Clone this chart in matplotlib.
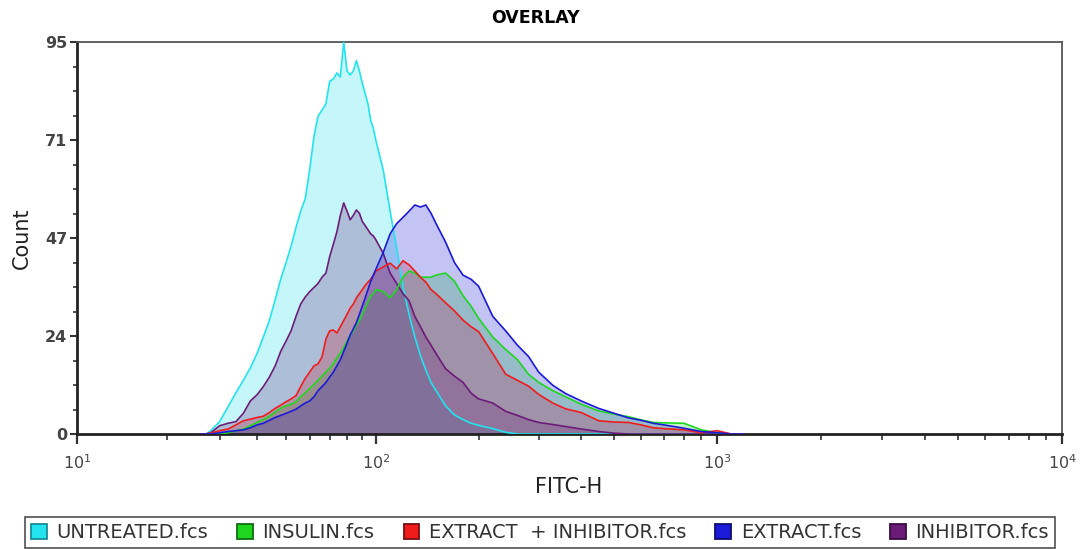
import numpy as np
import matplotlib
matplotlib.use("Agg")
import matplotlib.pyplot as plt
from matplotlib.patches import Patch
from matplotlib.ticker import FixedLocator, NullFormatter

# ---------------- data ----------------
fitc = [26, 27, 28, 30, 32, 34, 36, 38, 40, 42, 44, 46, 48, 50, 52, 54, 56, 58, 60, 62,
        64, 66, 68, 70, 72, 74, 76, 78, 80, 82, 84, 86, 88, 90, 92, 94, 96, 98, 100, 105,
        110, 115, 120, 125, 130, 135, 140, 145, 150, 160, 170, 180, 190, 200, 220, 240, 260, 280, 300, 330,
        360, 400, 450, 500, 550, 600, 650, 700, 800, 900, 1000, 1100, 1200]

untreated = [0, 0, 0.8, 3, 6.6, 10, 13, 16, 19.5, 23.5, 27.5, 32.5, 37.5, 41.5, 45.5, 50, 54, 57, 64, 72,
             77, 78.5, 80, 85.5, 86, 87.5, 86.5, 95, 88, 87, 88, 90.5, 88, 85, 82.5, 80, 76, 74, 71, 64,
             54, 45, 35.7, 29, 23.5, 19, 15.5, 12.5, 10.5, 6.8, 4.6, 3.5, 2.6, 2.1, 1.3, 0.4, 0, 0, 0, 0,
             0, 0, 0, 0, 0, 0, 0, 0, 0, 0, 0, 0, 0]

insulin = [0, 0, 0, 0, 0.3, 0.8, 1.2, 2, 2.8, 3.5, 4.3, 5.3, 6.2, 6.8, 7.2, 7.8, 9, 10, 11, 12,
           13, 14, 15, 16, 17, 18.5, 19.6, 21, 22.5, 24, 25, 26.5, 27.5, 29, 30.5, 32, 33.5, 34, 35, 34.5,
           33, 35, 38, 39.5, 39, 38, 38, 38, 38.5, 39, 37, 33.5, 31, 28, 23.5, 20.5, 18, 14.5, 12.5, 10.5,
           9, 7.2, 5.6, 4.8, 4.2, 3.4, 2.8, 2.7, 2.6, 1, 0.3, 0, 0]

extract_inhibitor = [0, 0, 0.2, 0.8, 1.2, 2.2, 3.2, 3.6, 4, 4.3, 5.2, 6.2, 7, 7.8, 8.5, 9.3, 11.5, 13.5, 15, 16.5,
                     17, 18.7, 23, 25, 25.2, 24.5, 26, 27.5, 29, 30.5, 31.5, 33, 34, 35, 36, 36.8, 37.5, 38.5, 39.5, 40.5,
                     41.4, 40, 42, 41, 39.5, 38, 36.8, 35, 34, 31.8, 29.8, 27.6, 26, 24.8, 19.5, 14.5, 13, 11.6, 9.6, 7.5,
                     6.1, 5.2, 3.2, 2.9, 2.8, 2.2, 1.5, 1.3, 1, 0.3, 0.8, 0, 0]

extract = [0, 0, 0, 0.3, 0.6, 0.8, 1, 1.5, 2.2, 2.6, 3.3, 4, 4.5, 5, 5.5, 6, 6.8, 7.5, 8, 9,
           10.5, 11.5, 12.5, 13.8, 15, 16.5, 18, 20, 22, 24, 25.5, 27, 29, 31, 33, 35, 37, 38.5, 40, 44,
           48.5, 51, 52.5, 54, 55.5, 55, 55.5, 53.5, 51, 46.5, 41.5, 38.5, 37.5, 35.8, 28.5, 25, 21.5, 18.8, 15, 11.8,
           9.8, 8, 6.2, 5, 3.9, 3.3, 2.6, 2.2, 1.4, 0.6, 0.3, 0, 0]

inhibitor = [0, 0, 0.3, 2, 2.6, 3, 5, 8, 9.5, 11.5, 13.8, 16.5, 20, 22.5, 25, 28.5, 31.5, 33.2, 34.5, 35.5,
             36.5, 38, 39, 43, 46, 49, 53, 56, 54, 51.9, 53, 54.3, 53.5, 51.5, 50.5, 49.5, 48.5, 48, 47, 43.8,
             39, 36.5, 34, 32.3, 28.5, 26, 23.5, 21.5, 19.5, 15.8, 14, 12.5, 9.9, 8.5, 7.5, 5.5, 4.5, 3.5, 2.8, 2.3,
             1.8, 1.2, 0.6, 0.2, 0, 0, 0, 0, 0, 0, 0, 0, 0]

series_names = ["UNTREATED.fcs", "INSULIN.fcs", "EXTRACT  + INHIBITOR.fcs", "EXTRACT.fcs", "INHIBITOR.fcs"]
line_colors = ["#22e3ee", "#1fd61f", "#ee1c1c", "#1a1ad8", "#6a1c78"]
edge_colors = ["#1a8c96", "#0f6e0f", "#7a0d0d", "#0d0d6e", "#3a0c42"]

y_ticks = [0, 23.75, 47.5, 71.25, 95]
y_tick_labels = ["0", "24", "47", "71", "95"]
x_major = [10, 100, 1000, 10000]
x_tick_labels = [r"$\mathregular{10^{1}}$", r"$\mathregular{10^{2}}$",
                 r"$\mathregular{10^{3}}$", r"$\mathregular{10^{4}}$"]

# ---------------- axis scale (instrument log display, decades of unequal width) ----------------
_dec = [1.0, 2.0, 3.0, 4.0]
_pos = [0.0, 299.0, 640.0, 985.0]

def fwd(x):
    x = np.asarray(x, dtype=float)
    lx = np.log10(np.clip(x, 1e-3, None))
    return np.interp(lx, _dec, _pos)

def inv(p):
    p = np.asarray(p, dtype=float)
    return 10 ** np.interp(p, _pos, _dec)

# ---------------- figure ----------------
W, H = 1083, 549
fig = plt.figure(figsize=(W / 100, H / 100), dpi=100)
ax = fig.add_axes([77 / W, 1 - 434 / H, (1062 - 77) / W, (434 - 42) / H])
ax.set_xscale("function", functions=(fwd, inv))

data = [untreated, insulin, extract_inhibitor, extract, inhibitor]
for i in range(5):
    ax.fill_between(fitc, 0, data[i], color=line_colors[i], alpha=0.26, linewidth=0, zorder=1 + i * 0.1)
line_order = [0, 4, 1, 2, 3]
for i in line_order:
    ax.plot(fitc, data[i], color=line_colors[i], lw=1.2, zorder=3)

ax.set_xlim(10, 10000)
ax.set_ylim(0, 95)

ax.xaxis.set_major_locator(FixedLocator(x_major))
ax.xaxis.set_minor_locator(FixedLocator([k * 10 ** d for d in (1, 2, 3) for k in range(2, 10)]))
ax.set_xticklabels(x_tick_labels)
ax.xaxis.set_minor_formatter(NullFormatter())
ax.yaxis.set_major_locator(FixedLocator(y_ticks))
ax.yaxis.set_minor_locator(FixedLocator([95 * k / 16 for k in range(17)]))
ax.set_yticklabels(y_tick_labels)

ax.tick_params(axis="x", which="major", length=7, width=1.6, color="#333333", pad=7,
               labelsize=11.5, labelcolor="#444444")
ax.tick_params(axis="x", which="minor", length=4, width=1.2, color="#333333")
ax.tick_params(axis="y", which="major", length=5, width=1.5, color="#333333", pad=2,
               labelsize=11.5, labelcolor="#444444")
ax.tick_params(axis="y", which="minor", length=3, width=1.2, color="#333333")
for lab in ax.get_yticklabels():
    lab.set_fontweight("bold")

for s in ("left", "bottom"):
    ax.spines[s].set_linewidth(2.0)
    ax.spines[s].set_color("#222222")
for s in ("top", "right"):
    ax.spines[s].set_linewidth(1.3)
    ax.spines[s].set_color("#555555")

fig.text(535 / W, 1 - 18 / H, "OVERLAY", ha="center", va="center", fontsize=12.5, fontweight="bold")
fig.text(22 / W, 1 - 238 / H, "Count", rotation=90, ha="center", va="center", fontsize=15, color="#222222")
fig.text(569 / W, 1 - 487 / H, "FITC-H", ha="center", va="center", fontsize=15, color="#222222")

handles = [Patch(facecolor=line_colors[i], edgecolor=edge_colors[i], linewidth=1.3) for i in range(5)]
leg = fig.legend(handles, series_names, loc="center", bbox_to_anchor=(540 / W, 1 - 532.5 / H),
                 ncol=5, frameon=True, fancybox=False, handlelength=0.8, handleheight=0.8,
                 handletextpad=0.5, columnspacing=1.5, borderpad=0.3, borderaxespad=0,
                 prop={"size": 14})
for t in leg.get_texts():
    t.set_color("#333333")
leg.get_frame().set_edgecolor("#222222")
leg.get_frame().set_linewidth(1.2)

fig.savefig("out.png", dpi=100)
